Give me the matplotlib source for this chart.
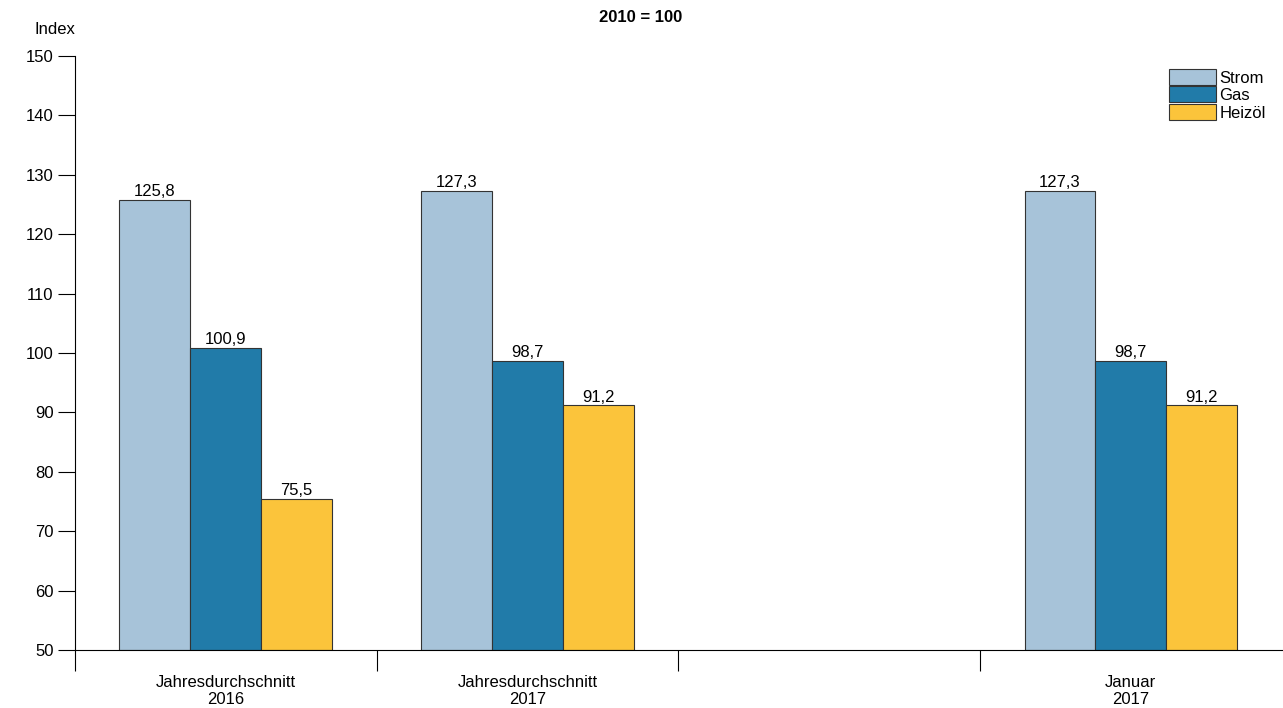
import matplotlib

matplotlib.use("Agg")

import matplotlib.pyplot as plt  # noqa: E402
import numpy as np  # noqa: E402

categories = ["Jahresdurchschnitt\n2016", "Jahresdurchschnitt\n2017", "", "Januar\n2017"]
strom = [125.8, 127.3, np.nan, 127.3]
gas = [100.9, 98.7, np.nan, 98.7]
heizoel = [75.5, 91.2, np.nan, 91.2]
series = [("Strom", strom, "#a7c3d9"), ("Gas", gas, "#217ba9"), ("Heizöl", heizoel, "#fbc43b")]

plt.rcParams["font.family"] = ["Liberation Sans", "DejaVu Sans"]
plt.rcParams["font.size"] = 12

fig = plt.figure(figsize=(12.83, 7.08), dpi=100)
ax = fig.add_axes([75 / 1283, 1 - 650 / 708, 1 - 75 / 1283 - 0.001, (650 - 56) / 708])

width = 0.235
centers = np.arange(len(categories)) + 0.5
for i, (name, vals, color) in enumerate(series):
    x = centers + (i - 1) * width
    v = np.array(vals, dtype=float)
    ax.bar(x, v - 50, width=width, bottom=50, color=color, edgecolor="#333333",
           linewidth=0.8, label=name)
    for xi, vi in zip(x, v):
        if not np.isnan(vi):
            ax.text(xi, vi + 0.1, f"{vi:.1f}".replace(".", ","), ha="center", va="bottom",
                    fontsize=12)

ax.set_xlim(0, len(categories))
ax.set_ylim(50, 150)
ax.set_yticks(range(50, 151, 10))
ax.set_xticks(range(len(categories)))
ax.set_xticklabels([])
ax.set_xticks(centers, minor=True)
ax.set_xticklabels(categories, minor=True)
ax.tick_params(axis="x", which="major", length=15, width=0.8, direction="out")
ax.tick_params(axis="x", which="minor", length=0, pad=18)
ax.tick_params(axis="y", length=12, width=0.8, labelsize=12)
for s in ["top", "right"]:
    ax.spines[s].set_visible(False)

fig.text(55 / 1283, 1 - 30 / 708, "Index", ha="center", va="center", fontsize=12)
fig.text(641 / 1283, 1 - 18 / 708, "2010 = 100", ha="center", va="center",
         fontsize=12, fontweight="bold")

ax.legend(loc="upper right", bbox_to_anchor=(0.995, 0.995), frameon=False,
          handlelength=2.8, handleheight=1.1, labelspacing=0.05,
          handletextpad=0.2, borderaxespad=0.2, fontsize=12)

fig.savefig("out.png", dpi=100)
